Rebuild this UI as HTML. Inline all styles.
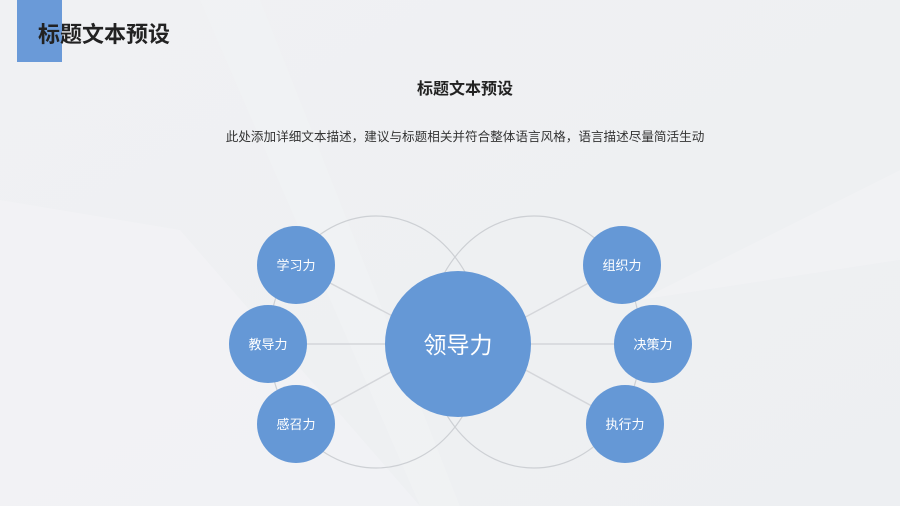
<!DOCTYPE html>
<html><head><meta charset="utf-8"><style>
body{margin:0;width:900px;height:506px;overflow:hidden;background:#eff0f3;font-family:"Liberation Sans","Noto Sans CJK SC",sans-serif;}
</style></head><body>
<svg width="900" height="506" viewBox="0 0 900 506" xmlns="http://www.w3.org/2000/svg" style="position:absolute;left:0;top:0">
<defs><linearGradient id="bg" x1="0" y1="0" x2="1" y2="1"><stop offset="0" stop-color="#f0f1f3"/><stop offset="1" stop-color="#edeff2"/></linearGradient></defs>
<rect width="900" height="506" fill="url(#bg)"/>
<polygon points="0,200 180,230 420,506 0,506" fill="#f3f4f6" opacity="0.6"/>
<polygon points="200,0 260,0 460,506 420,506" fill="#f3f4f6" opacity="0.4"/>
<polygon points="900,170 900,260 640,300" fill="#f3f4f6" opacity="0.5"/>
<rect x="17" y="0" width="45" height="62" fill="#6a9ad8"/>
<text x="38" y="42" font-size="22" font-weight="bold" fill="#222" font-family="Liberation Sans,Noto Sans CJK SC,sans-serif">标题文本预设</text>
<text x="465" y="94" font-size="16" font-weight="bold" fill="#222" text-anchor="middle" font-family="Liberation Sans,Noto Sans CJK SC,sans-serif">标题文本预设</text>
<text x="465" y="141" font-size="12.6" fill="#333" text-anchor="middle" font-family="Liberation Sans,Noto Sans CJK SC,sans-serif">此处添加详细文本描述，建议与标题相关并符合整体语言风格，语言描述尽量简活生动</text>
<g fill="none" stroke="#cdd0d4" stroke-width="1.2">
<ellipse cx="376" cy="342" rx="107" ry="126"/>
<ellipse cx="534" cy="342" rx="107" ry="126"/>
</g>
<g stroke="#d4d6da" stroke-width="1.5">
<line x1="296" y1="265" x2="400" y2="320"/>
<line x1="268" y1="344" x2="395" y2="344"/>
<line x1="296" y1="424" x2="400" y2="367"/>
<line x1="622" y1="265" x2="520" y2="320"/>
<line x1="653" y1="344" x2="522" y2="344"/>
<line x1="625" y1="424" x2="520" y2="367"/>
</g>
<g fill="#6598d6">
<circle cx="458" cy="344" r="73"/>
<circle cx="296" cy="265" r="39"/>
<circle cx="268" cy="344" r="39"/>
<circle cx="296" cy="424" r="39"/>
<circle cx="622" cy="265" r="39"/>
<circle cx="653" cy="344" r="39"/>
<circle cx="625" cy="424" r="39"/>
</g>
<g fill="#fff" font-size="13" text-anchor="middle" font-family="Liberation Sans,Noto Sans CJK SC,sans-serif">
<text x="296" y="270">学习力</text>
<text x="268" y="349">教导力</text>
<text x="296" y="429">感召力</text>
<text x="622" y="270">组织力</text>
<text x="653" y="349">决策力</text>
<text x="625" y="429">执行力</text>
<text x="458" y="353" font-size="23">领导力</text>
</g>
</svg>
</body></html>
